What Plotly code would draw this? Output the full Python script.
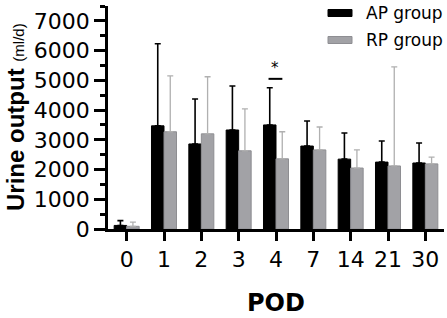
import plotly.graph_objects as go

# ---- data ----
pod_labels = ["0", "1", "2", "3", "4", "7", "14", "21", "30"]
ap_mean = [120, 3470, 2860, 3330, 3500, 2790, 2350, 2250, 2220]
ap_sd = [160, 2760, 1510, 1480, 1250, 840, 880, 710, 670]
rp_mean = [90, 3270, 3200, 2630, 2360, 2660, 2050, 2120, 2190]
rp_sd = [140, 1880, 1920, 1410, 910, 770, 610, 3330, 230]
series_names = ["AP group", "RP group"]
y_ticks = [0, 1000, 2000, 3000, 4000, 5000, 6000, 7000]
sig_category = "4"
sig_line_y = 5050
sig_star_y = 5420

AP_COLOR = "#000000"
RP_COLOR = "#a2a2a6"
RP_ERR = "#b0b0b0"

fig = go.Figure()
fig.add_trace(go.Bar(
    x=pod_labels, y=ap_mean, name=series_names[0],
    marker=dict(color=AP_COLOR, line=dict(color="#000000", width=1)),
    error_y=dict(type="data", symmetric=False, array=ap_sd,
                 arrayminus=[0] * len(ap_sd), color="#000000",
                 thickness=1.6, width=3),
    showlegend=False,
))
fig.add_trace(go.Bar(
    x=pod_labels, y=rp_mean, name=series_names[1],
    marker=dict(color=RP_COLOR, line=dict(color="#8e8e92", width=1)),
    error_y=dict(type="data", symmetric=False, array=rp_sd,
                 arrayminus=[0] * len(rp_sd), color=RP_ERR,
                 thickness=1.3, width=3),
    showlegend=False,
))

# significance marker over POD 4
ci = pod_labels.index(sig_category)
fig.add_shape(type="line", xref="x", yref="y",
              x0=ci - 0.2, x1=ci + 0.17, y0=sig_line_y, y1=sig_line_y,
              line=dict(color="black", width=2))
fig.add_annotation(x=ci - 0.02, y=sig_star_y, xref="x", yref="y", text="*",
                   showarrow=False, font=dict(family="DejaVu Sans", size=15, color="black"),
                   yanchor="middle")

# manual legend (wide swatches as in the reference)
PW, PH = 336.0, 223.0  # plot area size in px
def px_x(px):
    return (px - 108) / PW
def px_y(py):
    return (229 - py) / PH

legend_rows = [(series_names[0], AP_COLOR, AP_COLOR, 13),
               (series_names[1], RP_COLOR, "#8e8e92", 40)]
for name, fill, edge, cy in legend_rows:
    fig.add_shape(type="rect", xref="paper", yref="paper",
                  x0=px_x(328), x1=px_x(352), y0=px_y(cy + 3.5), y1=px_y(cy - 3.5),
                  fillcolor=fill, line=dict(color=edge, width=1))
    fig.add_annotation(x=px_x(364), y=px_y(cy), xref="paper", yref="paper",
                       text=name, showarrow=False, xanchor="left", yanchor="middle",
                       font=dict(family="DejaVu Sans", size=17, color="black"))

# axis titles as annotations
fig.add_annotation(x=px_x(15), y=px_y(213), xref="paper", yref="paper",
                   text="<b>Urine output</b> <span style='font-size:15px'>(ml/d)</span>",
                   textangle=-90, showarrow=False, xanchor="center", yanchor="bottom",
                   font=dict(family="Liberation Sans", size=24, color="black"))
fig.add_annotation(x=0.5, y=px_y(303), xref="paper", yref="paper",
                   text="<b>POD</b>", showarrow=False, xanchor="center", yanchor="middle",
                   font=dict(family="DejaVu Sans", size=24, color="black"))

fig.update_layout(
    width=447, height=318,
    margin=dict(l=108, r=3, t=6, b=89),
    paper_bgcolor="white", plot_bgcolor="white",
    barmode="group", bargap=0.33, bargroupgap=0,
    showlegend=False,
    font=dict(family="DejaVu Sans", color="black"),
)
fig.update_xaxes(
    type="category", range=[-0.5, len(pod_labels) - 0.5],
    showline=True, linewidth=2.5, linecolor="black",
    ticks="outside", ticklen=9, tickwidth=2.5, tickcolor="black",
    tickfont=dict(family="DejaVu Sans", size=22, color="black"),
    showgrid=False, zeroline=False,
)
fig.update_yaxes(
    range=[0, 7500], tickmode="array", tickvals=y_ticks,
    showline=True, linewidth=2.5, linecolor="black",
    ticks="outside", ticklen=11, tickwidth=2.5, tickcolor="black",
    minor=dict(ticks="outside", ticklen=5, tickwidth=2.5, tickcolor="black", dtick=500, tick0=0),
    tickfont=dict(family="DejaVu Sans", size=22, color="black"),
    showgrid=False, zeroline=False,
)

fig.write_html("out.html",
               config={"displayModeBar": False},
               post_script="document.body.style.margin='0';document.body.style.padding='0';")
